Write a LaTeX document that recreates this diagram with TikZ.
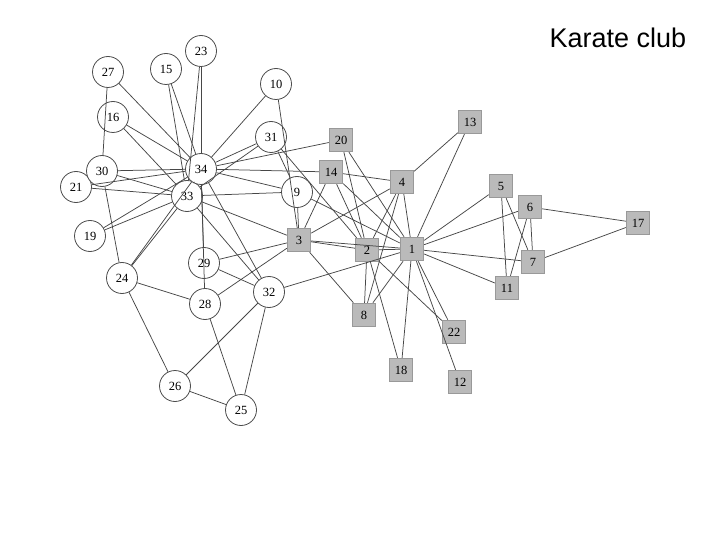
\documentclass[tikz,border=0pt]{standalone}
\usepackage{fontspec}
\setmainfont{Liberation Serif}
\newfontfamily\titlefont{Liberation Sans}

\begin{document}
\begin{tikzpicture}[
  x=1pt, y=-1pt,
  font=\fontsize{12.5}{12.5}\selectfont,
  member/.style={draw=black!70, fill=white, circle, minimum size=31pt,
                 inner sep=0pt, line width=0.8pt},
  officer/.style={draw=black!40, fill=black!27, minimum size=23.5pt,
                  inner sep=0pt, line width=0.9pt},
  tie/.style={draw=black!72, line width=0.75pt}
]
  \useasboundingbox (0,0) rectangle (720,540);
  \node[anchor=base west, font=\titlefont\fontsize{27}{27}\selectfont] (title)
        at (546,48) {Karate club};
  % the officer's faction
  \node[officer] (n1) at (412,249) {1};
  \node[officer] (n2) at (367,250) {2};
  \node[officer] (n3) at (299,240) {3};
  \node[officer] (n4) at (402,182) {4};
  \node[officer] (n5) at (501,186) {5};
  \node[officer] (n6) at (530,207) {6};
  \node[officer] (n7) at (533,262) {7};
  \node[officer] (n8) at (364,315) {8};
  \node[officer] (n11) at (507,288) {11};
  \node[officer] (n12) at (460,382) {12};
  \node[officer] (n13) at (470,122) {13};
  \node[officer] (n14) at (331,172) {14};
  \node[officer] (n17) at (638,223) {17};
  \node[officer] (n18) at (401,370) {18};
  \node[officer] (n20) at (341,140) {20};
  \node[officer] (n22) at (454,332) {22};
  % the instructor's faction
  \node[member] (n9) at (297,192) {9};
  \node[member] (n10) at (276,84) {10};
  \node[member] (n15) at (166,69) {15};
  \node[member] (n16) at (113,117) {16};
  \node[member] (n19) at (90,236) {19};
  \node[member] (n21) at (76,187) {21};
  \node[member] (n23) at (201,51) {23};
  \node[member] (n24) at (122,278) {24};
  \node[member] (n25) at (241,410) {25};
  \node[member] (n26) at (175,386) {26};
  \node[member] (n27) at (108,72) {27};
  \node[member] (n28) at (205,304) {28};
  \node[member] (n29) at (204,263) {29};
  \node[member] (n30) at (102,171) {30};
  \node[member] (n31) at (271,137) {31};
  \node[member] (n32) at (269,292) {32};
  \node[member] (n33) at (187,196) {33};
  \node[member] (n34) at (201,169) {34};
  % friendships
  \foreach \s/\tl in {1/{2,3,4,5,6,7,8,9,11,12,13,14,18,20,22,32},
      2/{3,4,8,14,18,20,22,31}, 3/{4,8,9,10,14,28,29,33}, 4/{8,13,14},
      5/{7,11}, 6/{7,11,17}, 7/{17}, 9/{31,33,34}, 10/{34}, 14/{34},
      15/{33,34}, 16/{33,34}, 19/{33,34}, 20/{34}, 21/{33,34}, 23/{33,34},
      24/{26,28,30,33,34}, 25/{26,28,32}, 26/{32}, 27/{30,34}, 28/{34},
      29/{32,34}, 30/{33,34}, 31/{33,34}, 32/{33,34}, 33/{34}}
    \foreach \t in \tl
      \draw[tie] (n\s) -- (n\t);
\end{tikzpicture}
\end{document}
